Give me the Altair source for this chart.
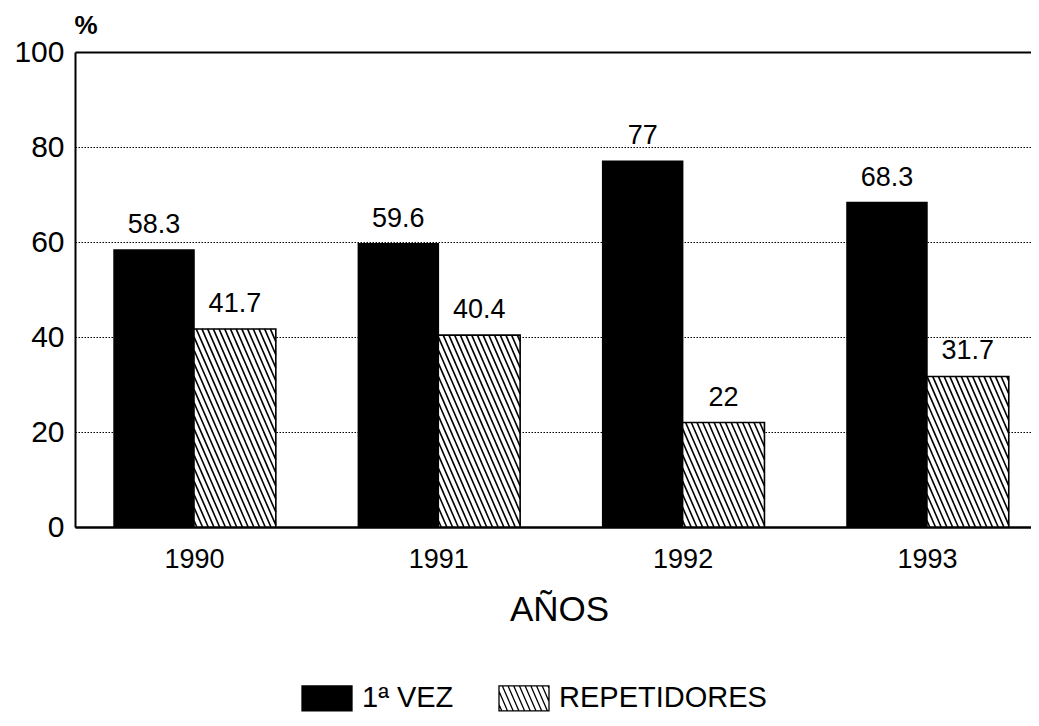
import altair as alt
import pandas as pd

# ---- data ----
years = [1990, 1991, 1992, 1993]
primera_vez = [58.3, 59.6, 77, 68.3]
repetidores = [41.7, 40.4, 22, 31.7]
series = ["1ª VEZ", "REPETIDORES"]
y_ticks = [0, 20, 40, 60, 80, 100]

rows = []
for i, yr in enumerate(years):
    rows.append({"year": yr, "serie": series[0], "value": primera_vez[i]})
    rows.append({"year": yr, "serie": series[1], "value": repetidores[i]})
df = pd.DataFrame(rows)

# ---- layout / style constants ----
FONT = "Liberation Sans"
W, H = 956, 475
X_DOMAIN = [1989.513, 1993.426]
BW_L, BW_R = 0.327, 0.335          # bar widths in year units (left/right of year)
PX_PER_YEAR = W / (X_DOMAIN[1] - X_DOMAIN[0])
PX_PER_PCT = H / 100.0
SLOPE = 2.3                         # hatch steepness (pixels down per pixel right)
GAP_PX = 5.7                        # horizontal spacing of hatch lines
K = SLOPE * PX_PER_YEAR / PX_PER_PCT
STEP = SLOPE * GAP_PX / PX_PER_PCT

# legend symbol paths (unit box [-1,1] x [-0.5,0.5], 25 px per unit)
RECT = "M-1,-0.5H1V0.5H-1Z"
def hatch_path():
    dx = (25.0 / SLOPE) / 25.0
    gap = GAP_PX / 25.0
    parts = [RECT]
    t = -1 - dx + gap / 2
    while t < 1:
        xs, ys = t, -0.5
        xe, ye = t + dx, 0.5
        if xs < -1:
            ys = -0.5 + (-1 - xs) / dx
            xs = -1
        if xe > 1:
            ye = -0.5 + (1 - t) / dx
            xe = 1
        parts.append(f"M{xs:.3f},{ys:.3f}L{xe:.3f},{ye:.3f}")
        t += gap
    return "".join(parts)
HATCH = hatch_path()

xscale = alt.Scale(domain=X_DOMAIN, nice=False, zero=False)
yscale = alt.Scale(domain=[0, 100], nice=False)
cscale = alt.Scale(domain=series, range=["black", "white"])
sscale = alt.Scale(domain=series, range=[RECT, HATCH])

xaxis = alt.Axis(
    values=years, format="d", title="AÑOS", grid=False, ticks=False,
    labelFont=FONT, labelFontSize=27, labelColor="black", labelPadding=19,
    domainColor="black", domainWidth=2.5,
    titleFont=FONT, titleFontSize=35, titleFontWeight="normal", titleColor="black",
    titleX=484, titleY=93, titleBaseline="alphabetic", labelFlush=False,
)
yaxis = alt.Axis(
    values=y_ticks, title="%", ticks=False,
    labelFont=FONT, labelFontSize=30, labelColor="black", labelPadding=11,
    domainColor="black", domainWidth=2,
    grid=True, gridColor="black",
    gridDash={"condition": {"test": "datum.value === 100", "value": []}, "value": [1.5, 1.5]},
    gridWidth={"condition": {"test": "datum.value === 100", "value": 1.8}, "value": 1},
    titleFont=FONT, titleFontSize=26, titleFontWeight="bold", titleColor="black",
    titleAngle=0, titleAlign="left", titleBaseline="alphabetic", titleX=-1, titleY=-19,
)

legend = alt.Legend(
    title=None, orient="none", direction="horizontal", legendX=226, legendY=620,
    padding=0, labelFont=FONT, labelFontSize=29, labelColor="black",
    labelOffset=9, columnPadding=42, labelLimit=400, symbolSize=2500,
    symbolStrokeColor="black", symbolStrokeWidth=1.3,
)

base = alt.Chart(df)

legend_layer = base.transform_filter("datum.value < 0").mark_point(
    filled=True, size=2500, opacity=1, stroke="black", strokeWidth=1.3
).encode(
    x=alt.X("year:Q", scale=xscale, axis=xaxis),
    y=alt.Y("value:Q", scale=yscale, axis=yaxis),
    color=alt.Color("serie:N", scale=cscale, legend=legend),
    shape=alt.Shape("serie:N", scale=sscale, legend=legend),
)

bars = base.transform_calculate(
    x0=f"datum.serie == '{series[0]}' ? datum.year - {BW_L} : datum.year",
    x1=f"datum.serie == '{series[0]}' ? datum.year : datum.year + {BW_R}",
).mark_rect(stroke="black", strokeWidth=1.6).encode(
    x=alt.X("x0:Q", scale=xscale, axis=xaxis),
    x2="x1:Q",
    y=alt.Y("value:Q", scale=yscale, axis=yaxis),
    y2=alt.Y2Datum(0),
    color=alt.Color("serie:N", scale=cscale, legend=legend),
)

hatch = base.transform_filter(
    f"datum.serie == '{series[1]}'"
).transform_calculate(
    cs=f"sequence({STEP / 2}, datum.value + {K * BW_R}, {STEP})"
).transform_flatten(["cs"]).transform_calculate(
    xs=f"datum.year + max(0, (datum.cs - datum.value) / {K})",
    ys="min(datum.cs, datum.value)",
    xe=f"datum.year + min({BW_R}, datum.cs / {K})",
    ye=f"max(0, datum.cs - {K * BW_R})",
).mark_rule(color="black", strokeWidth=1.6).encode(
    x=alt.X("xs:Q", scale=xscale, axis=xaxis),
    x2="xe:Q",
    y=alt.Y("ys:Q", scale=yscale, axis=yaxis),
    y2="ye:Q",
)

labels = base.transform_calculate(
    xc=f"datum.serie == '{series[0]}' ? datum.year - {BW_L / 2} : datum.year + {BW_R / 2}",
).mark_text(
    font=FONT, fontSize=27, color="black", baseline="alphabetic", dy=-17
).encode(
    x=alt.X("xc:Q", scale=xscale, axis=xaxis),
    y=alt.Y("value:Q", scale=yscale, axis=yaxis),
    text=alt.Text("value:Q", format="~g"),
)

chart = alt.layer(legend_layer, bars, hatch, labels).properties(
    width=W, height=H,
    autosize=alt.AutoSizeParams(type="none"),
    padding={"left": 67, "top": 44, "right": 0, "bottom": 188},
    background="white",
).configure_view(stroke=None)

chart.save("out.html", embed_options={"renderer": "svg", "actions": False})
